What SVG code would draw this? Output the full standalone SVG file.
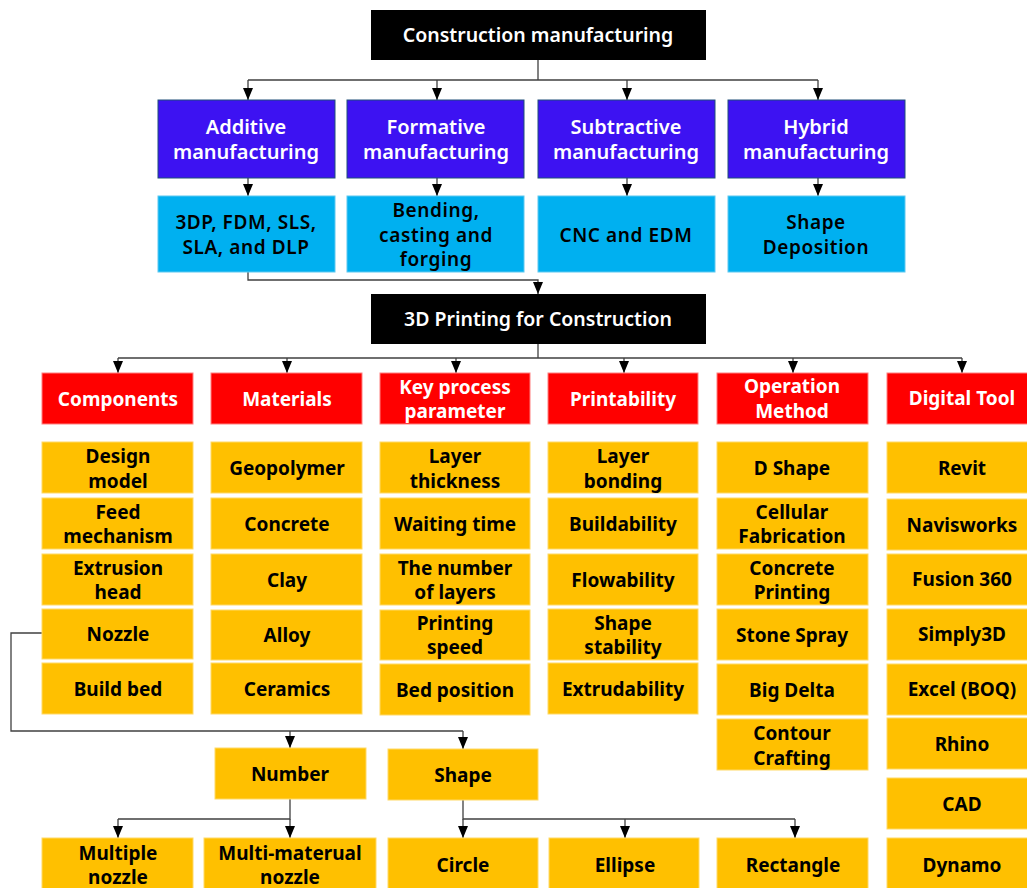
<svg xmlns="http://www.w3.org/2000/svg" width="1027" height="888" viewBox="0 0 1027 888">
  <style>
    text { font-family: "Noto Sans", "Open Sans", "DejaVu Sans", sans-serif; text-anchor: middle; }
    .root rect { fill: #000000; }
    .root text { fill: #ffffff; font-size: 19.5px; font-weight: 600; }
    .cat rect { fill: #3D12F2; stroke: #1F4E79; stroke-width: 1; }
    .cat text { fill: #ffffff; font-size: 20px; font-weight: 600; }
    .tech rect { fill: #00B0F0; stroke: #5CC8F0; stroke-width: 1; }
    .tech text { fill: #000000; font-size: 19px; font-weight: 600; letter-spacing: 0.6px; }
    .head rect { fill: #FF0000; stroke: #FF8080; stroke-width: 1; }
    .head text { fill: #ffffff; font-size: 19px; font-weight: 700; }
    .item rect { fill: #FFC000; stroke: #FFD966; stroke-width: 1; }
    .item text { fill: #000000; font-size: 19px; font-weight: 700; }
    .conn path { stroke: #404040; stroke-width: 1.3; fill: none; }
    .conn path.arr { marker-end: url(#arrow); }
  </style>
  <defs>
    <marker id="arrow" viewBox="0 0 10 12" refX="5" refY="12" markerWidth="10" markerHeight="12" markerUnits="userSpaceOnUse" orient="0">
      <path d="M0,0 L10,0 L5,12 Z" fill="#000000"/>
    </marker>
  </defs>

  <rect width="1027" height="888" fill="#ffffff"/>

  <!-- connectors -->
  <g id="connectors" class="conn">
    <!-- construction manufacturing to categories -->
    <path d="M538,60 V80 M248,80 H818"/>
    <path class="arr" d="M248,80 V100"/>
    <path class="arr" d="M437,80 V100"/>
    <path class="arr" d="M627,80 V100"/>
    <path class="arr" d="M818,80 V100"/>
    <!-- categories to techniques -->
    <path class="arr" d="M248,178 V196"/>
    <path class="arr" d="M437,178 V196"/>
    <path class="arr" d="M627,178 V196"/>
    <path class="arr" d="M818,178 V196"/>
    <!-- additive techniques to 3D printing -->
    <path class="arr" d="M248,272 V280 H538 V294"/>
    <!-- 3D printing to topics -->
    <path d="M538,344 V358 M118,358 H962"/>
    <path class="arr" d="M118,358 V373"/>
    <path class="arr" d="M287,358 V373"/>
    <path class="arr" d="M456,358 V373"/>
    <path class="arr" d="M624,358 V373"/>
    <path class="arr" d="M793,358 V373"/>
    <path class="arr" d="M962,358 V373"/>
    <!-- nozzle breakdown -->
    <path d="M42,633 H11 V731 H463"/>
    <path class="arr" d="M290,731 V748"/>
    <path class="arr" d="M463,731 V749"/>
    <!-- number breakdown -->
    <path d="M290,799 V819 H118"/>
    <path class="arr" d="M118,819 V838"/>
    <path class="arr" d="M290,819 V838"/>
    <!-- shape breakdown -->
    <path d="M463,800 V819 H795"/>
    <path class="arr" d="M463,819 V838"/>
    <path class="arr" d="M625,819 V838"/>
    <path class="arr" d="M795,819 V838"/>
  </g>

  <!-- top level -->
  <g id="construction-manufacturing" class="root">
    <rect x="371" y="10" width="335" height="50"/>
    <text x="538" y="42">Construction manufacturing</text>
  </g>

  <!-- manufacturing categories -->
  <g id="additive" class="cat">
    <rect x="158" y="100" width="177" height="78"/>
    <text x="246" y="134">Additive</text>
    <text x="246" y="159">manufacturing</text>
  </g>
  <g id="formative" class="cat">
    <rect x="347" y="100" width="177" height="78"/>
    <text x="436" y="134">Formative</text>
    <text x="436" y="159">manufacturing</text>
  </g>
  <g id="subtractive" class="cat">
    <rect x="538" y="100" width="177" height="78"/>
    <text x="626" y="134">Subtractive</text>
    <text x="626" y="159">manufacturing</text>
  </g>
  <g id="hybrid" class="cat">
    <rect x="728" y="100" width="177" height="78"/>
    <text x="816" y="134">Hybrid</text>
    <text x="816" y="159">manufacturing</text>
  </g>

  <!-- techniques -->
  <g id="additive-tech" class="tech">
    <rect x="158" y="196" width="177" height="76"/>
    <text x="246" y="229">3DP, FDM, SLS,</text>
    <text x="246" y="254">SLA, and DLP</text>
  </g>
  <g id="formative-tech" class="tech">
    <rect x="347" y="196" width="177" height="76"/>
    <text x="436" y="217">Bending,</text>
    <text x="436" y="242">casting and</text>
    <text x="436" y="266">forging</text>
  </g>
  <g id="subtractive-tech" class="tech">
    <rect x="538" y="196" width="177" height="76"/>
    <text x="626" y="242">CNC and EDM</text>
  </g>
  <g id="hybrid-tech" class="tech">
    <rect x="728" y="196" width="177" height="76"/>
    <text x="816" y="229">Shape</text>
    <text x="816" y="254">Deposition</text>
  </g>

  <!-- 3D printing -->
  <g id="printing-3d" class="root">
    <rect x="371" y="294" width="335" height="50"/>
    <text x="538" y="326">3D Printing for Construction</text>
  </g>

  <!-- topic headers -->
  <g id="components" class="head">
    <rect x="42" y="373" width="151" height="51"/>
    <text x="118" y="406">Components</text>
  </g>
  <g id="materials" class="head">
    <rect x="211" y="373" width="151" height="51"/>
    <text x="287" y="406">Materials</text>
  </g>
  <g id="key-process" class="head">
    <rect x="380" y="373" width="150" height="51"/>
    <text x="455" y="394">Key process</text>
    <text x="455" y="418">parameter</text>
  </g>
  <g id="printability" class="head">
    <rect x="548" y="373" width="150" height="51"/>
    <text x="623" y="406">Printability</text>
  </g>
  <g id="operation" class="head">
    <rect x="717" y="373" width="151" height="51"/>
    <text x="792" y="393">Operation</text>
    <text x="792" y="418">Method</text>
  </g>
  <g id="digital-tool" class="head">
    <rect x="887" y="373" width="150" height="51"/>
    <text x="962" y="405">Digital Tool</text>
  </g>

  <!-- components -->
  <g id="design-model" class="item"><rect x="42" y="442" width="151" height="51"/><text x="118" y="463">Design</text><text x="118" y="488">model</text></g>
  <g id="feed-mechanism" class="item"><rect x="42" y="498" width="151" height="51"/><text x="118" y="519">Feed</text><text x="118" y="543">mechanism</text></g>
  <g id="extrusion-head" class="item"><rect x="42" y="554" width="151" height="51"/><text x="118" y="575">Extrusion</text><text x="118" y="599">head</text></g>
  <g id="nozzle" class="item"><rect x="42" y="609" width="151" height="50"/><text x="118" y="641">Nozzle</text></g>
  <g id="build-bed" class="item"><rect x="42" y="663" width="151" height="51"/><text x="118" y="696">Build bed</text></g>

  <!-- materials -->
  <g id="geopolymer" class="item"><rect x="211" y="442" width="151" height="51"/><text x="287" y="475">Geopolymer</text></g>
  <g id="concrete" class="item"><rect x="211" y="498" width="151" height="51"/><text x="287" y="531">Concrete</text></g>
  <g id="clay" class="item"><rect x="211" y="554" width="151" height="51"/><text x="287" y="587">Clay</text></g>
  <g id="alloy" class="item"><rect x="211" y="610" width="151" height="50"/><text x="287" y="642">Alloy</text></g>
  <g id="ceramics" class="item"><rect x="211" y="663" width="151" height="51"/><text x="287" y="696">Ceramics</text></g>

  <!-- key process parameters -->
  <g id="layer-thickness" class="item"><rect x="380" y="442" width="150" height="51"/><text x="455" y="463">Layer</text><text x="455" y="488">thickness</text></g>
  <g id="waiting-time" class="item"><rect x="380" y="498" width="150" height="51"/><text x="455" y="531">Waiting time</text></g>
  <g id="number-of-layers" class="item"><rect x="380" y="554" width="150" height="51"/><text x="455" y="575">The number</text><text x="455" y="599">of layers</text></g>
  <g id="printing-speed" class="item"><rect x="380" y="610" width="150" height="50"/><text x="455" y="630">Printing</text><text x="455" y="654">speed</text></g>
  <g id="bed-position" class="item"><rect x="380" y="664" width="150" height="51"/><text x="455" y="697">Bed position</text></g>

  <!-- printability -->
  <g id="layer-bonding" class="item"><rect x="548" y="442" width="150" height="51"/><text x="623" y="463">Layer</text><text x="623" y="488">bonding</text></g>
  <g id="buildability" class="item"><rect x="548" y="498" width="150" height="51"/><text x="623" y="531">Buildability</text></g>
  <g id="flowability" class="item"><rect x="548" y="554" width="150" height="51"/><text x="623" y="587">Flowability</text></g>
  <g id="shape-stability" class="item"><rect x="548" y="609" width="150" height="51"/><text x="623" y="630">Shape</text><text x="623" y="654">stability</text></g>
  <g id="extrudability" class="item"><rect x="548" y="663" width="150" height="51"/><text x="623" y="696">Extrudability</text></g>

  <!-- operation methods -->
  <g id="d-shape" class="item"><rect x="717" y="442" width="151" height="51"/><text x="792" y="475">D Shape</text></g>
  <g id="cellular-fabrication" class="item"><rect x="717" y="498" width="151" height="51"/><text x="792" y="519">Cellular</text><text x="792" y="543">Fabrication</text></g>
  <g id="concrete-printing" class="item"><rect x="717" y="554" width="151" height="51"/><text x="792" y="575">Concrete</text><text x="792" y="599">Printing</text></g>
  <g id="stone-spray" class="item"><rect x="717" y="609" width="151" height="51"/><text x="792" y="642">Stone Spray</text></g>
  <g id="big-delta" class="item"><rect x="717" y="664" width="151" height="51"/><text x="792" y="697">Big Delta</text></g>
  <g id="contour-crafting" class="item"><rect x="717" y="719" width="151" height="51"/><text x="792" y="740">Contour</text><text x="792" y="765">Crafting</text></g>

  <!-- digital tools -->
  <g id="revit" class="item"><rect x="887" y="442" width="150" height="51"/><text x="962" y="475">Revit</text></g>
  <g id="navisworks" class="item"><rect x="887" y="499" width="150" height="51"/><text x="962" y="532">Navisworks</text></g>
  <g id="fusion-360" class="item"><rect x="887" y="554" width="150" height="51"/><text x="962" y="586">Fusion 360</text></g>
  <g id="simply3d" class="item"><rect x="887" y="609" width="150" height="51"/><text x="962" y="641">Simply3D</text></g>
  <g id="excel-boq" class="item"><rect x="887" y="664" width="150" height="51"/><text x="962" y="696">Excel (BOQ)</text></g>
  <g id="rhino" class="item"><rect x="887" y="718" width="150" height="51"/><text x="962" y="751">Rhino</text></g>
  <g id="cad" class="item"><rect x="887" y="778" width="150" height="51"/><text x="962" y="811">CAD</text></g>
  <g id="dynamo" class="item"><rect x="887" y="838" width="150" height="52"/><text x="962" y="872">Dynamo</text></g>

  <!-- nozzle sub-tree -->
  <g id="number" class="item"><rect x="215" y="748" width="151" height="51"/><text x="290" y="781">Number</text></g>
  <g id="shape" class="item"><rect x="388" y="749" width="150" height="51"/><text x="463" y="782">Shape</text></g>
  <g id="multiple-nozzle" class="item"><rect x="42" y="838" width="151" height="52"/><text x="118" y="860">Multiple</text><text x="118" y="884">nozzle</text></g>
  <g id="multi-material-nozzle" class="item"><rect x="204" y="838" width="172" height="52"/><text x="290" y="860">Multi-materual</text><text x="290" y="884">nozzle</text></g>
  <g id="circle" class="item"><rect x="388" y="838" width="150" height="52"/><text x="463" y="872">Circle</text></g>
  <g id="ellipse" class="item"><rect x="549" y="838" width="150" height="52"/><text x="625" y="872">Ellipse</text></g>
  <g id="rectangle" class="item"><rect x="717" y="838" width="151" height="52"/><text x="793" y="872">Rectangle</text></g>
</svg>
